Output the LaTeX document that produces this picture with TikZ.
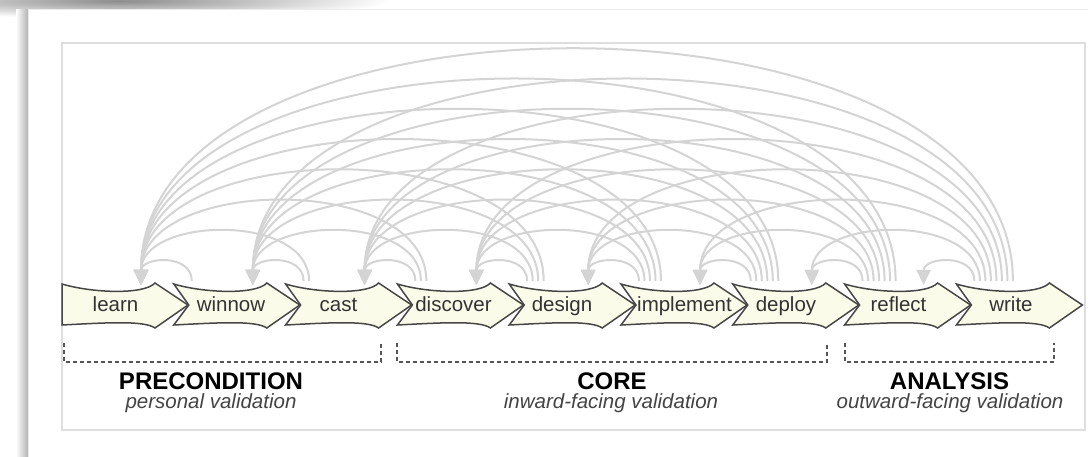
\documentclass[tikz,border=0pt]{standalone}
\usepackage{fontspec}
\setmainfont{Liberation Sans}
\usetikzlibrary{arrows.meta,fadings}
\tikzfading[name=softblob, inner color=transparent!0, outer color=transparent!100]
\definecolor{arcgray}{HTML}{D4D4D4}
\definecolor{framegray}{HTML}{DEDEDE}
\definecolor{chevfill}{HTML}{FBFBEA}
\definecolor{chevline}{HTML}{474747}
\definecolor{labelgray}{HTML}{333333}
\definecolor{brackgray}{HTML}{555555}
\definecolor{subgray}{HTML}{444444}
\begin{document}
\begin{tikzpicture}[x=1pt,y=-1pt,
  arc/.style={draw=arcgray, line width=2pt, -{Triangle[width=14pt,length=15pt]}},
  chev/.style={draw=chevline, fill=chevfill, line width=1.5pt, line join=miter},
  lbl/.style={text=labelgray, font=\fontsize{20.5}{23}\selectfont, anchor=base, inner sep=0pt},
  brack/.style={draw=brackgray, line width=1.5pt, dash pattern=on 4pt off 3pt},
  ttl/.style={font=\bfseries\fontsize{24}{28}\selectfont, anchor=base, inner sep=0pt},
  subt/.style={text=subgray, font=\itshape\fontsize{20.5}{24}\selectfont, anchor=base, inner sep=0pt}]
\useasboundingbox (0,0) rectangle (1088,457);
% page shadow and panel
\fill[black!45, path fading=softblob] (-150,-16) rectangle (390,18);
\shade[left color=white, right color=black!30] (16,10) rectangle (28,457);
\fill[white] (28,10) rectangle (1095,465);
\draw[black!8, line width=1pt] (28,465) -- (28,10) -- (1095,10);
% inner frame
\draw[framegray, line width=1.5pt] (62,43) rectangle (1085,430);
% arcs
\foreach \j in {1,...,8}{
  \pgfmathtruncatemacro\jm{\j-1}
  \foreach \i in {0,...,\jm}{
    \pgfmathsetmacro\xs{62+111.8*\j+18+5.5*(\j-\i-1)}
    \pgfmathsetmacro\xt{62+111.8*\i+79}
    \pgfmathsetmacro\cc{(8+0.258*(\xs-\xt))/0.75}
    \coordinate (s\j-\i) at (\xs,281);
    \coordinate (t\j-\i) at (\xt,285);
    \draw[arc] (s\j-\i) .. controls +(0,-\cc) and +(0,-\cc) .. (t\j-\i);
  }
}
% chevrons
\foreach \k/\name/\lx in {0/learn/115.5,1/winnow/231,2/cast/338.5,3/discover/453.5,4/design/562,5/implement/684.5,6/deploy/786,7/reflect/898.5,8/write/1011}{
  \pgfmathsetmacro\xo{62+111.8*\k}
  \pgfmathsetmacro\nd{\k==0?0:15}
  \begin{scope}[xshift=\xo pt]
    \path[chev] (0,325) -- (\nd,305) -- (0,284)
      .. controls (30,293) and (82,295) .. (93,283) -- (126,305) -- (93,328)
      .. controls (82,320) and (40,323) .. (0,325) -- cycle;
  \end{scope}
  \node[lbl] (n\k) at (\lx,312) {\name};
}
% brackets
\draw[brack] (64,343) -- (64,362) -- (381,362) -- (381,343);
\draw[brack] (397,343) -- (397,362) -- (827,362) -- (827,343);
\draw[brack] (845,343) -- (845,362) -- (1054,362) -- (1054,343);
% titles
\node[ttl] (pre) at (211,389) {PRECONDITION};
\node[subt] (pres) at (211,408.5) {personal validation};
\node[ttl] (core) at (612,389) {CORE};
\node[subt] (cores) at (611,408.5) {inward-facing validation};
\node[ttl] (ana) at (949.5,389) {ANALYSIS};
\node[subt] (anas) at (950,408.5) {outward-facing validation};
\end{tikzpicture}
\end{document}
